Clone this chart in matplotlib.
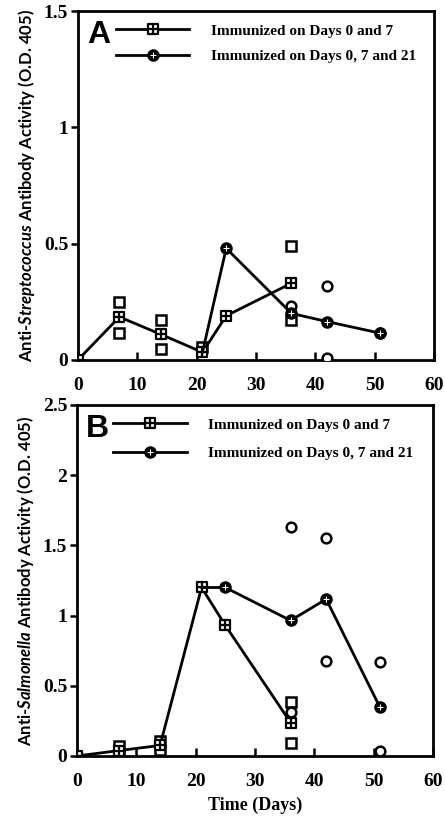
import numpy as np
import matplotlib.pyplot as plt
from matplotlib.path import Path
from matplotlib.legend_handler import HandlerTuple

plt.rcParams['font.family'] = 'Liberation Serif'
plt.rcParams['mathtext.fontset'] = 'custom'
plt.rcParams['mathtext.it'] = 'Lato:italic:bold'

# Panel A - Streptococcus
a_sq_days = [0, 7, 14, 21, 25, 36]
a_sq_mean = [0.0, 0.185, 0.11, 0.033, 0.19, 0.33]
a_sq_ind_days = [7, 7, 14, 14, 21, 36, 36]
a_sq_ind = [0.25, 0.115, 0.17, 0.046, 0.056, 0.49, 0.17]
a_ci_days = [21, 25, 36, 42, 51]
a_ci_mean = [0.033, 0.48, 0.20, 0.165, 0.115]
a_ci_ind_days = [36, 42, 42, 51]
a_ci_ind = [0.23, 0.32, 0.007, 0.115]

# Panel B - Salmonella
b_sq_days = [0, 7, 14, 21, 25, 36]
b_sq_mean = [0.0, 0.038, 0.075, 1.20, 0.93, 0.238]
b_sq_ind_days = [7, 7, 14, 14, 36, 36]
b_sq_ind = [0.071, 0.005, 0.11, 0.04, 0.387, 0.09]
b_ci_days = [21, 25, 36, 42, 51]
b_ci_mean = [1.20, 1.20, 0.965, 1.117, 0.352]
b_ci_ind_days = [36, 36, 42, 42, 51, 51]
b_ci_ind = [1.63, 0.31, 1.555, 0.677, 0.667, 0.038]

x_ticks = [0, 10, 20, 30, 40, 50, 60]
a_yticks = [0, 0.5, 1, 1.5]
a_ylabels = ['0', '0.5', '1', '1.5']
b_yticks = [0, 0.5, 1, 1.5, 2, 2.5]
b_ylabels = ['0', '0.5', '1', '1.5', '2', '2.5']

label_sq = 'Immunized on Days 0 and 7'
label_ci = 'Immunized on Days 0, 7 and 21'

# square with a cross inside
sq_cross = Path([(-1, -1), (1, -1), (1, 1), (-1, 1), (-1, -1),
                 (0, -1), (0, 1), (-1, 0), (1, 0)],
                [Path.MOVETO, Path.LINETO, Path.LINETO, Path.LINETO, Path.CLOSEPOLY,
                 Path.MOVETO, Path.LINETO, Path.MOVETO, Path.LINETO])

fig = plt.figure(figsize=(4.45, 8.17), dpi=100)
axA = fig.add_axes([0.175, 0.5594, 0.800, 0.4271])
axB = fig.add_axes([0.173, 0.0747, 0.800, 0.4296])


def draw_panel(ax, sq_d, sq_m, sqi_d, sqi, ci_d, ci_m, cii_d, cii, yticks, ylabels, ymax,
               letter, italic, leg_x, leg_y, leg_sp):
    ax.plot(sqi_d, sqi, ls='none', marker='s', ms=7, mfc='white', mec='black', mew=1.8, zorder=3)
    ax.plot(cii_d, cii, ls='none', marker='o', ms=7, mfc='white', mec='black', mew=1.8, zorder=3)
    l_sq, = ax.plot(sq_d, sq_m, color='black', lw=2, marker=sq_cross, ms=7.5,
                    mfc='white', mec='black', mew=1.6, zorder=4)
    l_ci, = ax.plot(ci_d, ci_m, color='black', lw=2, zorder=4)
    m_ci, = ax.plot(ci_d[1:], ci_m[1:], ls='none', marker='o', ms=8, mfc='black', mec='black', zorder=5)
    p_ci, = ax.plot(ci_d[1:], ci_m[1:], ls='none', marker='+', ms=4, mec='white', mew=0.8, zorder=6)

    ax.set_xlim(0, 60)
    ax.set_ylim(0, ymax)
    ax.set_xticks(x_ticks)
    ax.set_yticks(yticks, ylabels)
    ax.tick_params(axis='x', direction='in', length=6, width=1.8, labelsize=14, pad=12)
    ax.tick_params(axis='y', direction='out', length=5, width=1.8, labelsize=14, pad=2)
    for lab in ax.get_xticklabels() + ax.get_yticklabels():
        lab.set_fontweight('bold')
    for s in ax.spines.values():
        s.set_linewidth(2)
    ax.set_ylabel('Anti-$\\mathit{' + italic + '}$ Antibody Activity (O.D. 405)',
                  fontsize=12, family='Lato', fontweight='bold', labelpad=5)

    ax.text(0.025, 0.975, letter, transform=ax.transAxes, fontsize=23, fontweight='bold',
            family='Liberation Sans', va='top', ha='left')
    leg = ax.legend([l_sq, (l_ci, m_ci, p_ci)], [label_sq, label_ci],
                    handler_map={tuple: HandlerTuple(ndivide=1, pad=0)},
                    loc='upper left', bbox_to_anchor=(leg_x, leg_y), frameon=False,
                    fontsize=11, handlelength=4.8, handletextpad=1.4, labelspacing=leg_sp,
                    numpoints=1, borderaxespad=0)
    for t in leg.get_texts():
        t.set_fontweight('bold')


draw_panel(axA, a_sq_days, a_sq_mean, a_sq_ind_days, a_sq_ind, a_ci_days, a_ci_mean,
           a_ci_ind_days, a_ci_ind, a_yticks, a_ylabels, 1.5, 'A', 'Streptococcus', 0.09, 0.98, 0.75)
draw_panel(axB, b_sq_days, b_sq_mean, b_sq_ind_days, b_sq_ind, b_ci_days, b_ci_mean,
           b_ci_ind_days, b_ci_ind, b_yticks, b_ylabels, 2.5, 'B', 'Salmonella', 0.085, 0.98, 0.95)

axB.set_xlabel('Time (Days)', fontsize=13, fontweight='bold', labelpad=5)

fig.savefig('out.png', dpi=100)
